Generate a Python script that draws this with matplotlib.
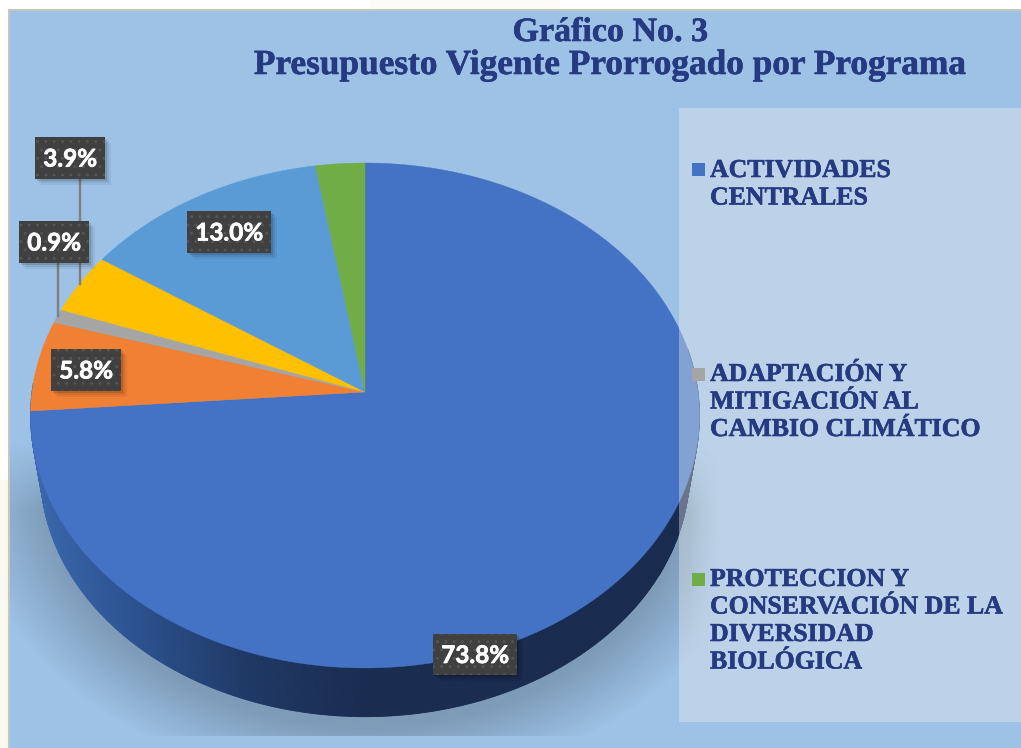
import numpy as np
import matplotlib
matplotlib.use('Agg')
import matplotlib.pyplot as plt
import matplotlib.patheffects as pe
from matplotlib.patches import Rectangle

title_lines = ['Gráfico No. 3', 'Presupuesto Vigente Prorrogado por Programa']
slice_values = [73.8, 5.8, 0.9, 3.9, 13.0, 2.6]
slice_colors = ['#4472C4', '#F08033', '#A5A5A5', '#FFC000', '#5B9BD5', '#70AD47']
label_texts = ['73.8%', '5.8%', '0.9%', '3.9%', '13.0%']
legend_names = ['ACTIVIDADES\nCENTRALES',
                'ADAPTACIÓN Y\nMITIGACIÓN AL\nCAMBIO CLIMÁTICO',
                'PROTECCION Y\nCONSERVACIÓN DE LA\nDIVERSIDAD\nBIOLÓGICA']
legend_colors = ['#4472C4', '#A5A5A5', '#70AD47']

W, H = 1021, 748
fig = plt.figure(figsize=(W/100, H/100), dpi=100, facecolor='white')
ax = fig.add_axes([0, 0, 1, 1])
ax.axis('off')

# the chart area, pixels from top left
ax.add_patch(Rectangle((9, 10), W, H, fc='#9DC2E6', ec='#C6C6BE', lw=1.5, zorder=1))
ax.add_patch(Rectangle((0, 480), 8, H-480, fc='#FAF7EF', lw=0, zorder=0.5))
ax.add_patch(Rectangle((370, 0), 190, 9, fc='#FDFBF5', lw=0, zorder=0.5))

# shadow under the pie
yy, xx = np.mgrid[0:H, 0:W]
dist = (np.sqrt(((xx-365)/352.0)**2+((yy-480)/270.0)**2)-1)*300
shade = np.zeros((H, W, 4))
fade = np.clip((yy-440)/70.0, 0, 1)*np.clip((722-xx)/35.0, 0, 1)
shade[..., 3] = 0.2*np.clip(0.6-dist/70, 0, 1)*fade
shade[..., 3][(yy > 735) | (xx < 10)] = 0
ax.imshow(shade, extent=(0, W, H, 0), zorder=2, interpolation='bilinear', aspect='auto')


def rim(theta, scale=1.0, drop=0.0):
    # perspective ellipse, theta is clockwise from top
    sx = np.sin(theta)
    sy = np.cos(theta)
    w = 1+0.093*sy
    px = 365+scale*333*sx/w
    py = 392-scale*250.3*sy/w+drop
    return px, py


# side of the pie, only the front half shows
side_x = [30, 130, 250, 365, 1021]
side_c = np.array([[0x3A, 0x68, 0xAD], [0x2C, 0x52, 0x90], [0x1F, 0x38, 0x64],
                   [0x1A, 0x2C, 0x50], [0x18, 0x2B, 0x50]])/255.0
ang = np.radians(np.linspace(80, 272, 420))
for i in range(len(ang)-1):
    a = ang[i:i+2]
    x1, y1 = rim(a)
    x2, y2 = rim(a, 0.97, 57)
    col = [np.interp(x1.mean(), side_x, side_c[:, k]) for k in range(3)]
    ax.fill(np.r_[x1, x2[::-1]], np.r_[y1, y2[::-1]], color=col, lw=0.6, zorder=3)

# top of the pie
start = 0.0
for val, col in zip(slice_values, slice_colors):
    stop = start+val/sum(slice_values)*2*np.pi
    t = np.linspace(start, stop, 200)
    x, y = rim(t)
    ax.fill(np.r_[365, x], np.r_[392, y], color=col, lw=0.3, zorder=4)
    start = stop

# leader lines
ax.plot([80, 80], [179, 284], color='#7F7F7F', lw=1.7, zorder=5)
ax.plot([58, 58], [263, 316], color='#7F7F7F', lw=1.7, zorder=5)

# legend panel
ax.add_patch(Rectangle((679, 108), W-679, 614, fc='#EEEEEE', alpha=0.38, lw=0, zorder=6))

legend_tops = [177, 381, 586]
legend_marks = [163, 368, 573]
navy = '#253A80'
heavy = [pe.withStroke(linewidth=0.4, foreground=navy)]
for name, col, base, mark in zip(legend_names, legend_colors, legend_tops, legend_marks):
    ax.add_patch(Rectangle((692, mark), 13, 13, fc=col, lw=0, zorder=7))
    for i, line in enumerate(name.split('\n')):
        ax.text(710, base+i*27.5, line, family='Liberation Serif', weight='bold',
                fontsize=18.6, color=navy, va='baseline', ha='left', zorder=7, path_effects=heavy)

# data labels
boxes = [(433, 634, 84, 41), (51, 349, 70, 42), (19, 221, 70, 42), (35, 137, 70, 42), (187, 211, 84, 42)]
plt.rcParams['hatch.linewidth'] = 0.9
heavy_w = [pe.withStroke(linewidth=0.5, foreground='white')]
for txt, (bx, by, bw, bh) in zip(label_texts, boxes):
    for off, al in [(7, 0.05), (5, 0.08), (3, 0.12)]:
        ax.add_patch(Rectangle((bx+off-1, by+off-1), bw, bh, fc='black', alpha=al, lw=0, zorder=8))
    ax.add_patch(Rectangle((bx, by), bw, bh, fc='#404040', ec='#555555', hatch='..', lw=0, zorder=9))
    ax.text(bx+bw/2, by+bh/2+1, txt, family='Lato', weight='bold', fontsize=17.5,
            color='white', ha='center', va='center', zorder=10, path_effects=heavy_w)

# title
ax.text(610, 41, title_lines[0], family='Liberation Serif', weight='bold', fontsize=24.5,
        color=navy, ha='center', va='baseline', zorder=7, path_effects=heavy)
ax.text(610, 74, title_lines[1], family='Liberation Serif', weight='bold', fontsize=25.4,
        color=navy, ha='center', va='baseline', zorder=7, path_effects=heavy)

ax.set_xlim(0, W)
ax.set_ylim(H, 0)
fig.savefig('out.png', dpi=100)
